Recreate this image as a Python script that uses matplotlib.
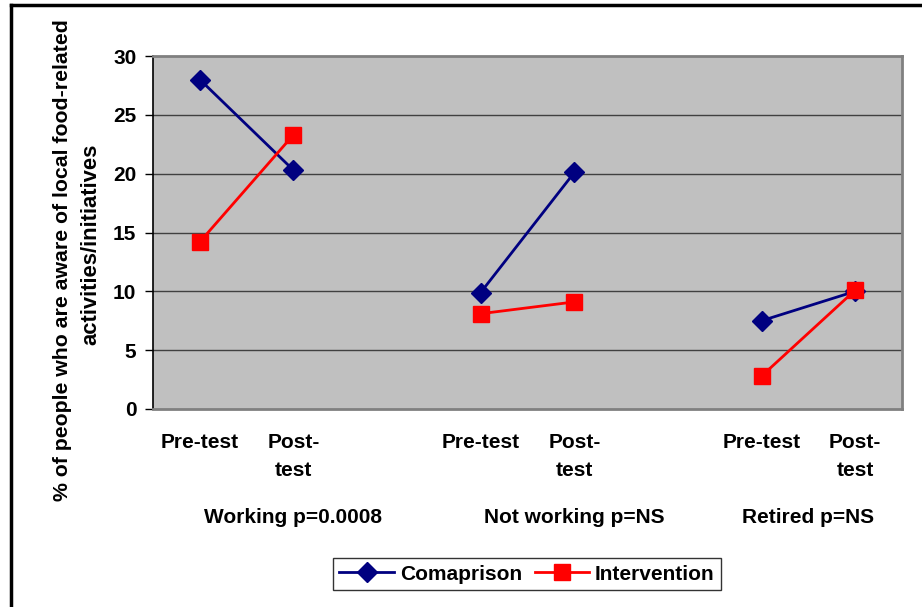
import matplotlib
matplotlib.use("Agg")
import matplotlib.pyplot as plt
from matplotlib.lines import Line2D

# 8 category slots: pre/post per group with an empty slot between groups
slots = ["Pre-test", "Post-\ntest", "", "Pre-test", "Post-\ntest", "", "Pre-test", "Post-\ntest"]
groups = ["Working p=0.0008", "Not working p=NS", "Retired p=NS"]
group_pos = [1, 4, 6.5]

comparison_x = [[0, 1], [3, 4], [6, 7]]
comparison = [[28.0, 20.3], [9.9, 20.1], [7.5, 10.0]]
intervention = [[14.2, 23.3], [8.1, 9.1], [2.8, 10.1]]

navy = "#000080"
red = "#FF0000"
plt.rcParams["font.family"] = ["Liberation Sans", "DejaVu Sans"]
plt.rcParams["font.weight"] = "bold"

fig = plt.figure(figsize=(9.22, 6.07), dpi=100)
ax = fig.add_axes([153 / 922, 1 - 409 / 607, 749 / 922, 353 / 607])
ax.set_facecolor("#C0C0C0")

for xs, c, iv in zip(comparison_x, comparison, intervention):
    ax.plot(xs, c, color=navy, lw=2, marker="D", ms=10, mec=navy, zorder=3)
    ax.plot(xs, iv, color=red, lw=2, marker="s", ms=11, mec=red, zorder=4)

ax.set_xlim(-0.5, 7.5)
ax.set_ylim(0, 30)
ax.set_yticks(range(0, 31, 5))
ax.set_xticks(range(len(slots)))
ax.set_xticklabels(slots, fontsize=15, fontweight="bold", linespacing=1.6, va="top")
ax.tick_params(axis="x", length=0, pad=17)
ax.tick_params(axis="y", length=6, width=1, pad=6, labelsize=15, direction="out")
for lab in ax.get_yticklabels():
    lab.set_fontweight("bold")
for y in range(5, 30, 5):
    ax.axhline(y, color="#404040", lw=1, zorder=1)

ax.spines["left"].set_color("black")
ax.spines["left"].set_linewidth(1.2)
for s in ("right", "bottom", "top"):
    ax.spines[s].set_color("#808080")
    ax.spines[s].set_linewidth(2)

for g, gx in zip(groups, group_pos):
    ax.text(gx, -9.2, g, ha="center", va="center", fontsize=15, fontweight="bold")

fig.text(62 / 922, 1 - 260 / 607, "% of people who are aware of local food-related",
         rotation=90, ha="center", va="center", fontsize=15.3, fontweight="bold")
fig.text(91 / 922, 1 - 244 / 607, "activities/initiatives",
         rotation=90, ha="center", va="center", fontsize=15.8, fontweight="bold")

handles = [Line2D([], [], color=navy, lw=2, marker="D", ms=10, mec=navy),
           Line2D([], [], color=red, lw=2, marker="s", ms=11, mec=red)]
leg = fig.legend(handles, ["Comaprison", "Intervention"], loc="center",
                 bbox_to_anchor=(527 / 922, 1 - 574 / 607), ncol=2, fontsize=15,
                 frameon=True, fancybox=False, edgecolor="black", handlelength=2.6,
                 columnspacing=0.6, handletextpad=0.3, borderpad=0.3, borderaxespad=0)
leg.get_frame().set_linewidth(1)
for t in leg.get_texts():
    t.set_fontweight("bold")

# outer chart frame (top and left edges visible)
fig.add_artist(Line2D([10.5 / 922, 10.5 / 922], [0, 1 - 4.5 / 607], color="black", lw=2.5,
                      transform=fig.transFigure))
fig.add_artist(Line2D([10.5 / 922, 1], [1 - 4.5 / 607, 1 - 4.5 / 607], color="black", lw=2.5,
                      transform=fig.transFigure))

fig.savefig("out.png", dpi=100)
